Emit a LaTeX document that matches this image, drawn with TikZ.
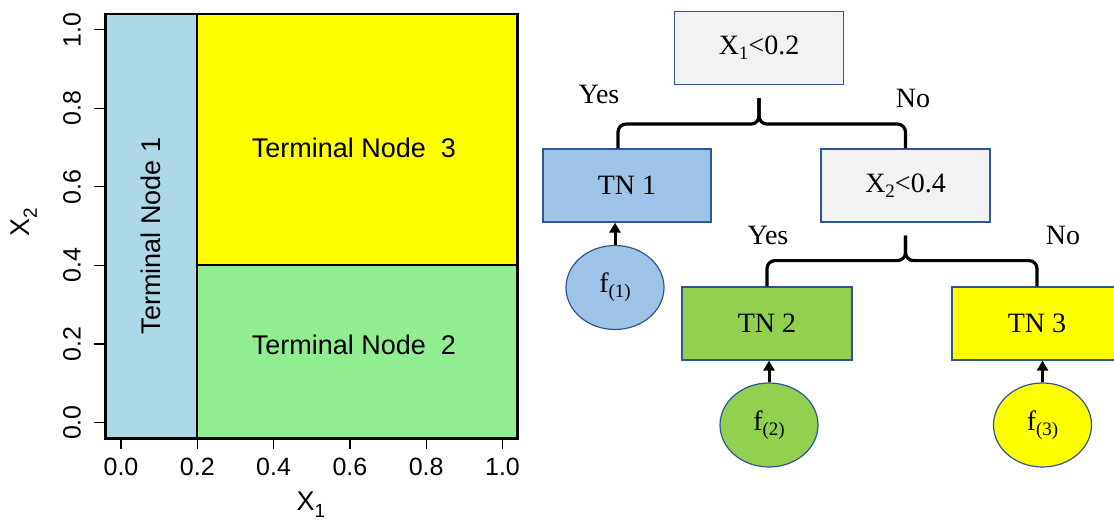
\documentclass[tikz,border=0pt]{standalone}
\usepackage{fontspec}
\setmainfont{Liberation Serif}
\newfontfamily\arialf{Liberation Sans}
\usetikzlibrary{calc,arrows.meta,shapes.geometric}
\definecolor{rblue}{HTML}{ADD8E6}
\definecolor{ryellow}{HTML}{FFFF00}
\definecolor{rgreen}{HTML}{90EE90}
\definecolor{tnblue}{HTML}{9DC3E6}
\definecolor{tngreen}{HTML}{92D050}
\definecolor{tnyellow}{HTML}{FFFF00}
\definecolor{tngray}{HTML}{F2F2F2}
\definecolor{edgeblue}{HTML}{2F5597}
\newcommand\rsub[1]{\raisebox{-7pt}{\fontsize{19}{19}\selectfont #1}}
\newcommand\tsub[1]{\raisebox{-5pt}{\fontsize{19}{19}\selectfont #1}}
\begin{document}
\begin{tikzpicture}[x=1pt,y=-1pt,
  rtext/.style={font=\arialf\fontsize{25}{29}\selectfont, inner sep=0pt},
  rlab/.style={font=\arialf\fontsize{27}{31}\selectfont, inner sep=0pt},
  rbig/.style={font=\arialf\fontsize{27}{31}\selectfont, inner sep=0pt},
  tbox/.style={draw=edgeblue, line width=1.2pt, minimum width=169pt, minimum height=73pt, inner sep=0pt, font=\fontsize{28}{32}\selectfont},
  fell/.style={draw=edgeblue, line width=1.2pt, ellipse, minimum width=98pt, minimum height=84pt, inner sep=0pt, font=\fontsize{28}{32}\selectfont},
  tlabel/.style={font=\fontsize{28}{32}\selectfont, inner sep=0pt},
  brace/.style={line width=3.2pt, rounded corners=8pt},
  arr/.style={line width=3pt, -{Triangle[length=10pt,width=11pt]}},
  tick/.style={line width=1.2pt}]
\useasboundingbox (0,0) rectangle (1114,524);
\clip (0,0) rectangle (1114,524);
\fill[white] (0,0) rectangle (1114,524);
% ---------- partition plot ----------
\fill[rblue] (105.7,14) rectangle (197.3,438.3);
\fill[ryellow] (197.3,14) rectangle (517.7,265.4);
\fill[rgreen] (197.3,265.4) rectangle (517.7,438.3);
\draw[line width=2pt] (197.3,14) -- (197.3,438.3);
\draw[line width=2pt] (197.3,265.4) -- (517.7,265.4);
\draw[line width=2.5pt] (105.7,14) rectangle (517.7,438.3);
\foreach \v [count=\i from 0] in {0.0,0.2,0.4,0.6,0.8,1.0}{
  \pgfmathsetmacro\xx{121+\i*76.3}
  \pgfmathsetmacro\yy{422.6-\i*78.58}
  \draw[tick] (\xx,438.3) -- (\xx,449);
  \node[rtext] (xl\i) at (\xx,467) {\v};
  \draw[tick] (105.7,\yy) -- (94,\yy);
  \node[rtext, rotate=90] (yl\i) at (72,\yy) {\v};
}
\node[rlab] (xlab) at (311,505) {X\rsub{1}};
\node[rlab, rotate=90] (ylab) at (24,222) {X\rsub{2}};
\node[rbig, rotate=90] (t1) at (151,236) {Terminal Node 1};
\node[rbig] (t3) at (354,148) {Terminal Node\ \ 3};
\node[rbig] (t2) at (354,345) {Terminal Node\ \ 2};
% ---------- tree ----------
\node[tbox, fill=tngray] (root) at (759,48) {X\tsub{1}<0.2};
\node[tbox, fill=tnblue, minimum width=168pt] (tn1) at (627,185.5) {TN 1};
\node[tbox, fill=tngray] (x2) at (905.5,185.5) {X\tsub{2}<0.4};
\node[tbox, fill=tngreen, minimum width=170pt] (tn2) at (767,323.5) {TN 2};
\node[tbox, fill=tnyellow, minimum width=170pt] (tn3) at (1037,323.5) {TN 3};
\node[fell, fill=tnblue] (f1) at (615,287.5) {f\tsub{(1)}};
\node[fell, fill=tngreen] (f2) at (769,425) {f\tsub{(2)}};
\node[fell, fill=tnyellow] (f3) at (1042.5,425) {f\tsub{(3)}};
\node[tlabel] (yes1) at (599,94) {Yes};
\node[tlabel] (no1) at (913,98.5) {No};
\node[tlabel] (yes2) at (768,235) {Yes};
\node[tlabel] (no2) at (1063,235.5) {No};
% braces
\coordinate (s1) at ($(root.south)+(0,13)$);
\coordinate (b1) at ($(root.south)+(0,39)$);
\draw[brace] ([xshift=-9pt]tn1.north) |- (b1) -- (s1);
\draw[brace] (x2.north) |- (b1) -- (s1);
\coordinate (s2) at ($(x2.south)+(0,13)$);
\coordinate (b2) at ($(x2.south)+(0,38)$);
\draw[brace] (tn2.north) |- (b2) -- (s2);
\draw[brace] (tn3.north) |- (b2) -- (s2);
% arrows
\draw[arr] (f1.north) -- (f1.north |- tn1.south);
\draw[arr] (f2.north) -- (f2.north |- tn2.south);
\draw[arr] (f3.north) -- (f3.north |- tn3.south);
\end{tikzpicture}
\end{document}
